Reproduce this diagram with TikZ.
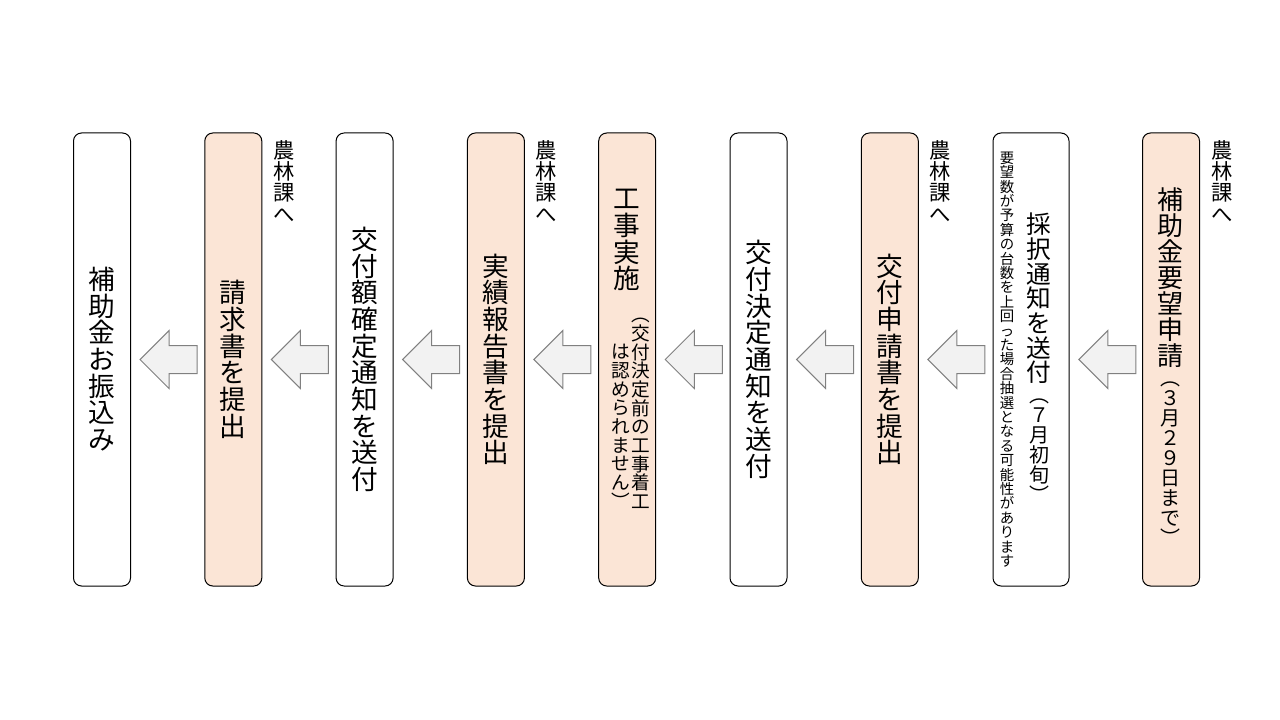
\documentclass[tikz,border=0pt]{standalone}
\usepackage{fontspec}
\setmainfont{Noto Sans CJK JP}
\usetikzlibrary{shapes.arrows}
\definecolor{peach}{HTML}{FBE5D6}
\definecolor{arrowfill}{HTML}{F2F2F2}
\definecolor{arrowline}{HTML}{808080}

\newdimen\cellw \cellw=30pt
\ExplSyntaxOn
\NewDocumentCommand\vt{m}{\tl_map_function:nN {#1} \vcell}
\ExplSyntaxOff
\newcommand\vcell[1]{\hbox to \cellw{\hss\vrule width 0pt height .88em depth .12em\relax #1\hss}}
\newcommand\fs[1]{\fontsize{#1}{#1}\selectfont}
\newcommand\vcol[2]{\fs{#1}\vbox{\offinterlineskip #2}}

\tikzset{
  stepbox/.style={draw=black, line width=0.75pt, rounded corners=6pt,
    minimum width=42.75pt, minimum height=339.75pt, inner sep=0pt},
  whitebox/.style={stepbox, fill=white},
  peachbox/.style={stepbox, fill=peach},
  flowarrow/.style={single arrow, draw=arrowline, fill=arrowfill, line width=0.75pt,
    minimum height=42.75pt, minimum width=42.75pt, single arrow head extend=11.25pt,
    inner xsep=0pt, inner ysep=10.125pt, shape border rotate=180, anchor=tip},
  vtext/.style={inner sep=0pt, text=black},
}

\begin{document}
\begin{tikzpicture}[x=0.75pt, y=-0.75pt]
\useasboundingbox (0,0) rectangle (1280,720);
\fill[white] (0,0) rectangle (1280,720);

% boxes
\node[whitebox] (b1) at (102,359.5) {\vcol{20pt}{\vt{補助金お振込み}}};
\node[peachbox] (b2) at (233.3,359.5) {\vcol{20pt}{\vt{請求書を提出}}};
\node[whitebox] (b3) at (364.6,359.5) {\vcol{20pt}{\vt{交付額確定通知を送付}}};
\node[peachbox] (b4) at (495.9,359.5) {\vcol{20pt}{\vt{実績報告書を提出}}};
\node[peachbox] (b5) at (627.2,359.5) {};
\node[vtext, anchor=north] (t5) at (627.2,185) {\vcol{20pt}{\vt{工事実施}}};
\node[vtext, anchor=north] (n5a) at (641,305) {\vcol{14pt}{\vt{︵交付決定前の工事着工}}};
\node[vtext, anchor=north] (n5b) at (621,342) {\vcol{14pt}{\vt{は認められません︶}}};
\node[whitebox] (b6) at (758.5,359.5) {\vcol{20pt}{\vt{交付決定通知を送付}}};
\node[peachbox] (b7) at (889.8,359.5) {\vcol{20pt}{\vt{交付申請書を提出}}};
\node[whitebox, minimum width=57pt] (b8) at (1031,359.5) {};
\node[vtext, anchor=north] (t8) at (1039,212) {\vcol{18.5pt}{\vt{採択通知を送付}\fs{15pt}\vt{︵７月初旬︶}}};
\node[vtext] (n8) at (1007,359.5) {\vcol{10.8pt}{\vt{要望数が予算の台数を上回った場合抽選となる可能性があります}}};
\node[peachbox] (b9) at (1171,359.5) {};
\node[vtext, anchor=north] (t9) at (1170,186) {\vcol{19.5pt}{\vt{補助金要望申請}\fs{15pt}\vt{︵３月２９日まで︶}}};

% labels
\node[vtext, anchor=north] (l2) at (284,139) {\vcol{16pt}{\vt{農林課へ}}};
\node[vtext, anchor=north] (l4) at (546.5,139) {\vcol{16pt}{\vt{農林課へ}}};
\node[vtext, anchor=north] (l7) at (940.5,139) {\vcol{16pt}{\vt{農林課へ}}};
\node[vtext, anchor=north] (l9) at (1222,139) {\vcol{16pt}{\vt{農林課へ}}};

% arrows (tip just right of the box they point to)
\node[flowarrow] (a1) at ([xshift=6.25pt]b1.east) {};
\node[flowarrow] (a2) at ([xshift=6.25pt]b2.east) {};
\node[flowarrow] (a3) at ([xshift=6.25pt]b3.east) {};
\node[flowarrow] (a4) at ([xshift=6.25pt]b4.east) {};
\node[flowarrow] (a5) at ([xshift=6.25pt]b5.east) {};
\node[flowarrow] (a6) at ([xshift=6.25pt]b6.east) {};
\node[flowarrow] (a7) at ([xshift=6.25pt]b7.east) {};
\node[flowarrow] (a8) at ([xshift=6.5pt]b8.east) {};
\end{tikzpicture}
\end{document}
